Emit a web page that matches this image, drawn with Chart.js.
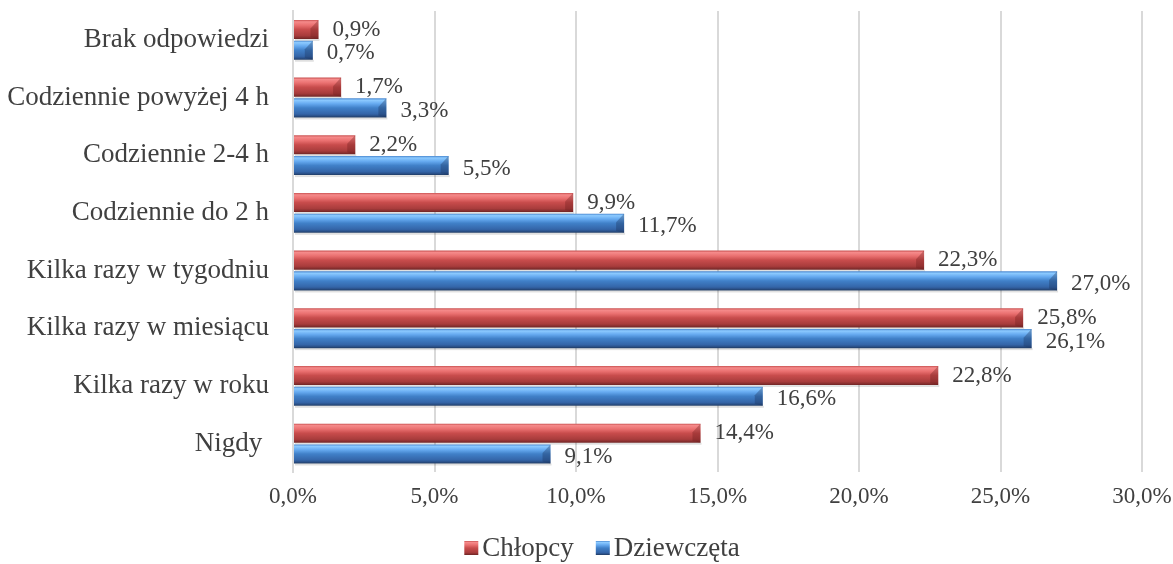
<!DOCTYPE html>
<html>
<head>
<meta charset="utf-8">
<script src="https://cdn.jsdelivr.net/npm/chart.js@4/dist/chart.umd.min.js"></script>
<style>
html,body{margin:0;padding:0;background:#fff;}
#wrap{width:1173px;height:564px;position:relative;}
</style>
</head>
<body>
<div id="wrap"><canvas id="c"></canvas></div>
<script>
const categories = ["Brak odpowiedzi","Codziennie powyżej 4 h","Codziennie 2-4 h","Codziennie do 2 h","Kilka razy w tygodniu","Kilka razy w miesiącu","Kilka razy w roku","Nigdy "];
const chlopcy = [0.9, 1.7, 2.2, 9.9, 22.3, 25.8, 22.8, 14.4];
const dziewczeta = [0.7, 3.3, 5.5, 11.7, 27.0, 26.1, 16.6, 9.1];
const seriesNames = ["Chłopcy","Dziewczęta"];
const xTicks = [0,5,10,15,20,25,30];

const FONT = "'Liberation Serif','Times New Roman',serif";
const TXT = '#404040';

function fmt(v){ return v.toFixed(1).replace('.',',') + '%'; }

const redStops = [[0,'#c85050'],[0.1,'#f58a8a'],[0.28,'#ea7070'],[0.5,'#c84c4c'],[0.82,'#a83c3c'],[0.92,'#8a3030'],[1,'#6e2424']];
const blueStops = [[0,'#4a88d0'],[0.1,'#8ccaff'],[0.28,'#66aaf0'],[0.5,'#4080c8'],[0.82,'#3465a8'],[0.92,'#2a5088'],[1,'#1f3a60']];
const stopsByDs = [redStops, blueStops];

function grad(c, top, bottom, stops){
  const g = c.createLinearGradient(0, top, 0, bottom);
  stops.forEach(s => g.addColorStop(s[0], s[1]));
  return g;
}

const gradPlugin = {
  id:'barGrad',
  beforeDatasetsDraw(chart){
    const c = chart.ctx;
    chart.data.datasets.forEach((ds, di) => {
      const meta = chart.getDatasetMeta(di);
      meta.data.forEach(el => {
        const top = el.y - el.height/2, bottom = el.y + el.height/2;
        el.options.backgroundColor = grad(c, top, bottom, stopsByDs[di]);
        c.save();
        c.fillStyle = 'rgba(0,0,0,0.12)';
        c.fillRect(el.base + 1, bottom, el.x - el.base, 2);
        c.restore();
      });
    });
  },
  afterDatasetsDraw(chart){
    const c = chart.ctx;
    chart.data.datasets.forEach((ds, di) => {
      const meta = chart.getDatasetMeta(di);
      meta.data.forEach(el => {
        const top = el.y - el.height/2, bottom = el.y + el.height/2;
        const w = Math.min(8, (el.x - el.base)/2);
        c.save();
        c.fillStyle = di===0 ? 'rgba(110,30,30,0.35)' : 'rgba(25,50,90,0.35)';
        c.beginPath();
        c.moveTo(el.x, top); c.lineTo(el.x - w, top + el.height*0.45); c.lineTo(el.x - w, bottom - 2); c.lineTo(el.x, bottom); c.closePath();
        c.fill();
        c.restore();
      });
    });
    c.save();
    c.font = "23px " + FONT;
    c.fillStyle = TXT;
    c.textAlign = 'left';
    c.textBaseline = 'middle';
    chart.data.datasets.forEach((ds, di) => {
      const meta = chart.getDatasetMeta(di);
      meta.data.forEach((el, i) => {
        const dy = di === 0 ? 0 : 3;
        c.fillText(fmt(ds.data[i]), el.x + 14, el.y + dy);
      });
    });
    c.restore();
  },
  afterDraw(chart){
    const c = chart.ctx;
    c.save();
    c.font = "27px " + FONT;
    c.textBaseline = 'middle';
    c.textAlign = 'left';
    const box = 14, gapBox = 4, gapItem = 22;
    const widths = seriesNames.map(n => c.measureText(n).width);
    const total = widths.reduce((a,b)=>a+b,0) + seriesNames.length*(box+gapBox) + gapItem*(seriesNames.length-1);
    let x = 602 - total/2;
    const y = 548;
    seriesNames.forEach((n,i) => {
      c.fillStyle = grad(c, y-box/2, y+box/2, stopsByDs[i]);
      c.fillRect(x, y - box/2, box, box);
      x += box + gapBox;
      c.fillStyle = TXT;
      c.fillText(n, x, y + 1);
      x += widths[i] + gapItem;
    });
    c.restore();
  }
};

new Chart(document.getElementById('c'), {
  type:'bar',
  data:{
    labels: categories,
    datasets:[
      {label: seriesNames[0], data: chlopcy, backgroundColor: (ctx)=>'#c0504d', borderWidth:0, categoryPercentage:0.72, barPercentage:0.92},
      {label: seriesNames[1], data: dziewczeta, backgroundColor: (ctx)=>'#4f81bd', borderWidth:0, categoryPercentage:0.72, barPercentage:0.92}
    ]
  },
  options:{
    indexAxis:'y',
    responsive:true,
    maintainAspectRatio:false,
    animation:false,
    devicePixelRatio:1,
    layout:{padding:{left:4,right:0,top:11,bottom:42}},
    scales:{
      x:{
        min:0, max:30,
        afterBuildTicks(ax){ ax.ticks = xTicks.map(v=>({value:v})); },
        ticks:{ font:{family:FONT,size:23}, color:TXT, padding:11, callback:(v)=>fmt(v) },
        grid:{ color:'#d9d9d9', lineWidth:2, drawTicks:false },
        border:{ display:false },
        afterFit(ax){ ax.paddingRight = 31; ax.paddingLeft = 0; }
      },
      y:{
        ticks:{ font:{family:FONT,size:27}, color:TXT, padding:24 },
        grid:{ display:false, drawTicks:false },
        border:{ display:true, color:'#d9d9d9', width:2 },
        afterFit(ax){ ax.width = 289; ax.paddingTop = 0; ax.paddingBottom = 0; }
      }
    },
    plugins:{
      legend:{ display:false },
      tooltip:{enabled:false}
    }
  },
  plugins:[gradPlugin]
});
</script>
</body>
</html>
